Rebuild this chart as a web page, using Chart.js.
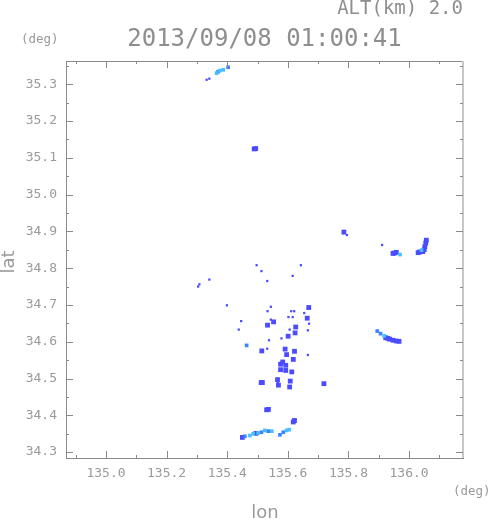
<!DOCTYPE html>
<html><head><meta charset="utf-8">
<script src="https://cdn.jsdelivr.net/npm/chart.js@4"></script>
<style>html,body{margin:0;padding:0;background:#fff}#w{width:491px;height:521px}</style>
</head><body><div id="w"><canvas id="c" width="491" height="521"></canvas></div>
<script>
// ---- data (lon, lat in degrees) ----
const titleText = "2013/09/08 01:00:41";
const altText = "ALT(km) 2.0";
const xTickValues = [135.0, 135.2, 135.4, 135.6, 135.8, 136.0];
const xMinorValues = [134.9, 135.1, 135.3, 135.5, 135.7, 135.9, 136.1];
const yTickValues = [34.3, 34.4, 34.5, 34.6, 34.7, 34.8, 34.9, 35.0, 35.1, 35.2, 35.3];
const yMinorValues = [34.35, 34.45, 34.55, 34.65, 34.75, 34.85, 34.95, 35.05, 35.15, 35.25, 35.35];

const strongBlobs = [
  [135.489,35.124],[135.494,35.125],
  [135.669,34.693],[135.664,34.664],[135.553,34.654],[135.533,34.645],
  [135.626,34.640],[135.624,34.624],[135.601,34.615],[135.514,34.575],
  [135.591,34.580],[135.622,34.574],[135.596,34.565],[135.618,34.552],
  [135.583,34.545],[135.576,34.524],[135.576,34.539],[135.593,34.522],
  [135.593,34.536],[135.613,34.518],[135.566,34.497],[135.608,34.493],
  [135.512,34.489],[135.516,34.489],[135.569,34.482],[135.606,34.477],
  [135.719,34.486],[135.530,34.415],[135.536,34.416],[135.618,34.382],
  [135.622,34.386],
  [136.035,34.844],[136.045,34.845],[136.030,34.842],[136.052,34.858],
  [136.057,34.876],[136.055,34.868],[136.050,34.850],
  [135.958,34.843],[135.947,34.840],[135.952,34.841],[135.785,34.898],
  [135.923,34.611],[135.936,34.607],[135.947,34.604],[135.958,34.602],
  [135.967,34.601],[135.930,34.609],
  [135.450,34.340],[135.495,34.351]
];
const strongDots = [
  [135.341,34.769],[135.308,34.756],[135.304,34.750],[135.399,34.699],
  [135.497,34.808],[135.513,34.792],[135.643,34.808],[135.616,34.779],
  [135.532,34.765],[135.544,34.695],[135.533,34.683],[135.611,34.683],
  [135.621,34.683],[135.654,34.678],[135.602,34.667],[135.616,34.667],
  [135.544,34.660],[135.446,34.656],[135.438,34.633],[135.606,34.633],
  [135.670,34.649],[135.666,34.631],[135.579,34.609],[135.538,34.604],
  [135.532,34.581],[135.666,34.564],[135.567,34.488],[135.911,34.863],
  [135.795,34.890],[135.341,35.315],[135.332,35.312],[135.783,34.895]
];
const mediumBlue = [
  [135.464,34.590],[135.403,35.346],[135.458,34.343],[135.513,34.354],
  [135.535,34.357],[135.574,34.347],[135.585,34.354],[135.895,34.629],
  [135.906,34.622],[135.370,35.334]
];
const weakCyan = [
  [135.376,35.337],[135.365,35.330],[135.387,35.339],[135.475,34.345],
  [135.486,34.350],[135.502,34.352],[135.524,34.359],[135.547,34.357],
  [135.596,34.359],[135.604,34.361],[135.970,34.837],[136.041,34.849],
  [135.918,34.616]
];

const toXY = a => a.map(p => ({x: p[0], y: p[1]}));
const axisGray = '#8a8a8a';
const textGray = '#9a9a9a';
const titleGray = '#8e8e8e';
const mono = '"DejaVu Sans Mono", monospace';

const frame = {
  id: 'frame',
  afterDraw(chart) {
    const ctx = chart.ctx, a = chart.chartArea;
    const xs = chart.scales.x, ys = chart.scales.y;
    ctx.save();
    ctx.strokeStyle = axisGray; ctx.lineWidth = 1;
    ctx.beginPath();
    ctx.moveTo(a.left, a.top + 0.5); ctx.lineTo(a.right, a.top + 0.5);
    ctx.stroke();
    ctx.strokeStyle = '#c8c8c8'; ctx.lineWidth = 2;
    ctx.beginPath(); ctx.moveTo(a.right, a.top); ctx.lineTo(a.right, a.bottom); ctx.stroke();
    ctx.strokeStyle = axisGray; ctx.lineWidth = 1;
    const tick = (vals, len) => {
      vals.forEach(v => {
        const px = Math.round(xs.getPixelForValue(v)) + 0.5;
        if (px < a.left || px > a.right) return;
        ctx.beginPath(); ctx.moveTo(px, a.bottom); ctx.lineTo(px, a.bottom - len); ctx.stroke();
        ctx.beginPath(); ctx.moveTo(px, a.top); ctx.lineTo(px, a.top + len); ctx.stroke();
      });
    };
    const ytick = (vals, len) => {
      vals.forEach(v => {
        const py = Math.round(ys.getPixelForValue(v)) + 0.5;
        if (py < a.top || py > a.bottom) return;
        ctx.beginPath(); ctx.moveTo(a.left, py); ctx.lineTo(a.left + len, py); ctx.stroke();
        ctx.beginPath(); ctx.moveTo(a.right, py); ctx.lineTo(a.right - len, py); ctx.stroke();
      });
    };
    tick(xTickValues, 7); tick(xMinorValues, 3);
    ytick(yTickValues, 7); ytick(yMinorValues, 3);

    ctx.fillStyle = titleGray;
    ctx.textBaseline = 'middle';
    ctx.font = '19px ' + mono; ctx.textAlign = 'right';
    ctx.fillText(altText, a.right, 9);
    ctx.font = '24px ' + mono; ctx.textAlign = 'center';
    ctx.fillText(titleText, (a.left + a.right) / 2, 40);
    ctx.fillStyle = textGray;
    ctx.font = '12.5px ' + mono; ctx.textAlign = 'left';
    ctx.fillText('(deg)', 21, 40);
    ctx.fillText('(deg)', 453, 492);
    ctx.font = '18px "DejaVu Sans", sans-serif'; ctx.textAlign = 'center';
    ctx.fillText('lon', 265, 513);
    ctx.save();
    ctx.translate(9, 262); ctx.rotate(-Math.PI / 2);
    ctx.fillText('lat', 0, 0);
    ctx.restore();
    ctx.restore();
  }
};

new Chart(document.getElementById('c'), {
  type: 'scatter',
  data: {
    datasets: [
      {label: 'weak', data: toXY(weakCyan), backgroundColor: 'rgb(70,190,255)', pointStyle: 'rect', pointRadius: 2.6, borderWidth: 0},
      {label: 'medium', data: toXY(mediumBlue), backgroundColor: 'rgb(60,130,255)', pointStyle: 'rect', pointRadius: 2.6, borderWidth: 0},
      {label: 'strong', data: toXY(strongBlobs), backgroundColor: 'rgb(75,75,255)', pointStyle: 'rect', pointRadius: 3.4, borderWidth: 0},
      {label: 'strongDots', data: toXY(strongDots), backgroundColor: 'rgb(75,75,255)', pointStyle: 'rect', pointRadius: 1.6, borderWidth: 0}
    ]
  },
  options: {
    responsive: false, animation: false,
    layout: {padding: {left: 0, right: 28, top: 61, bottom: 0}},
    plugins: {legend: {display: false}, tooltip: {enabled: false}},
    scales: {
      x: {
        type: 'linear', min: 134.868, max: 136.178,
        afterBuildTicks: s => { s.ticks = xTickValues.map(v => ({value: v})); },
        afterFit: s => { s.height = 63; },
        grid: {drawOnChartArea: false, drawTicks: false},
        border: {color: axisGray, width: 1},
        ticks: {padding: 8, color: textGray, font: {family: mono, size: 13}, callback: v => Number(v).toFixed(1), maxRotation: 0}
      },
      y: {
        type: 'linear', min: 34.284, max: 35.363,
        afterBuildTicks: s => { s.ticks = yTickValues.map(v => ({value: v})); },
        afterFit: s => { s.width = 66; },
        grid: {drawOnChartArea: false, drawTicks: false},
        border: {color: axisGray, width: 1},
        ticks: {padding: 9, color: textGray, font: {family: mono, size: 13}, callback: v => Number(v).toFixed(1)}
      }
    }
  },
  plugins: [frame]
});
</script>
</body></html>
